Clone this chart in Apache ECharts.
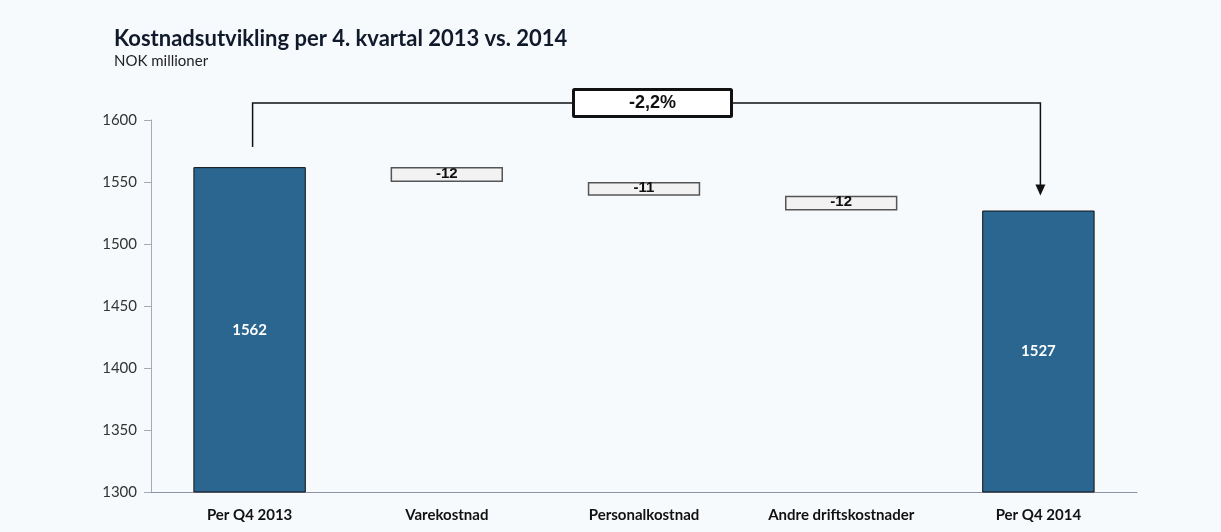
<!DOCTYPE html>
<html>
<head>
<meta charset="utf-8">
<script src="https://cdn.jsdelivr.net/npm/echarts@6/dist/echarts.min.js"></script>
<style>
  html, body { margin: 0; padding: 0; background: #f7fafd; }
  #chart { width: 1221px; height: 532px; }
</style>
</head>
<body>
<div id="chart"></div>
<script>
// Kostnadsutvikling per 4. kvartal, NOK millioner
const categories = ['Per Q4 2013', 'Varekostnad', 'Personalkostnad', 'Andre driftskostnader', 'Per Q4 2014'];
const startTotal = 1562;
const changes = [-12, -11, -12];
const endTotal = 1527;
const yTicks = { min: 1300, max: 1600, interval: 50 };

// Waterfall: totals as full bars, changes as floating boxes on a transparent base
const totals = [startTotal, null, null, null, endTotal];
const base = [null];
const deltas = [null];
let running = startTotal;
changes.forEach(c => {
  running += c;
  base.push(running);
  deltas.push(Math.abs(c));
});
base.push(null);
deltas.push(null);

const pct = (endTotal - startTotal) / startTotal * 100;
const pctText = pct.toFixed(1).replace('.', ',') + '%';

const chart = echarts.init(document.getElementById('chart'));
chart.setOption({
  backgroundColor: '#f7fafd',
  animation: false,
  title: {
    text: 'Kostnadsutvikling per 4. kvartal 2013 vs. 2014',
    subtext: 'NOK millioner',
    left: 109,
    top: 23,
    itemGap: 4,
    textStyle: { fontFamily: 'Lato', fontWeight: 'bold', fontSize: 22, color: '#111a2b' },
    subtextStyle: { fontFamily: 'Lato', fontSize: 15, color: '#222' }
  },
  grid: { left: 151, right: 84, top: 120, bottom: 40, containLabel: false },
  xAxis: {
    type: 'category',
    data: categories,
    axisLine: { lineStyle: { color: '#8e92a6', width: 1 } },
    axisTick: { show: false },
    axisLabel: {
      fontFamily: 'Lato', fontWeight: 'bold', fontSize: 15, color: '#111', margin: 16
    }
  },
  yAxis: {
    type: 'value',
    min: yTicks.min,
    max: yTicks.max,
    interval: yTicks.interval,
    axisLine: { show: true, lineStyle: { color: '#a6a9b8', width: 1 } },
    axisTick: { show: true, length: 7, lineStyle: { color: '#a6a9b8' } },
    splitLine: { show: false },
    axisLabel: {
      fontFamily: 'Lato', fontSize: 15, color: '#333', margin: 14,
      formatter: v => String(v)
    }
  },
  series: [
    {
      name: 'Totals',
      type: 'bar',
      stack: 'w',
      data: totals,
      barWidth: '57%',
      itemStyle: { color: '#2a6690', borderColor: '#111', borderWidth: 1 },
      label: {
        show: true, position: 'inside',
        fontFamily: 'Lato', fontWeight: 'bold', fontSize: 15, color: '#fff'
      }
    },
    {
      name: 'Base',
      type: 'bar',
      stack: 'w',
      data: base,
      barWidth: '57%',
      itemStyle: { color: 'transparent' },
      silent: true
    },
    {
      name: 'Endring',
      type: 'bar',
      stack: 'w',
      data: deltas,
      barWidth: '57%',
      itemStyle: { color: '#f2f2f2', borderColor: '#555', borderWidth: 1.5 },
      label: {
        show: true, position: 'inside',
        formatter: p => '-' + p.value,
        fontFamily: 'Liberation Sans', fontWeight: 'bold', fontSize: 15, color: '#111',
        offset: [0, -1]
      }
    },
    {
      name: 'Bracket',
      type: 'custom',
      coordinateSystem: 'cartesian2d',
      clip: false,
      silent: true,
      data: [[0, startTotal, 4, endTotal]],
      renderItem: function (params, api) {
        const p0 = api.coord([api.value(0), api.value(1)]);
        const p1 = api.coord([api.value(2), api.value(3)]);
        const topY = api.coord([0, yTicks.max])[1] - 17;
        const x0 = p0[0] + 3;
        const x1 = p1[0] + 2;
        const leftEnd = p0[1] - 20;
        const tipY = p1[1] - 15;
        const boxW = 158, boxH = 27;
        const cx = (x0 + x1) / 2 + 6;
        return {
          type: 'group',
          children: [
            {
              type: 'polyline',
              shape: { points: [[x0, leftEnd], [x0, topY], [x1, topY], [x1, tipY - 10]] },
              style: { stroke: '#111', lineWidth: 1.5, fill: null }
            },
            {
              type: 'polygon',
              shape: { points: [[x1 - 5, tipY - 11], [x1 + 5, tipY - 11], [x1, tipY]] },
              style: { fill: '#111' }
            },
            {
              type: 'rect',
              shape: { x: cx - boxW / 2, y: topY - boxH / 2, width: boxW, height: boxH, r: 1 },
              style: { fill: '#ffffff', stroke: '#111', lineWidth: 3 }
            },
            {
              type: 'text',
              x: cx, y: topY,
              style: {
                text: pctText, align: 'center', verticalAlign: 'middle',
                fontFamily: 'Liberation Sans', fontWeight: 'bold', fontSize: 18, fill: '#111'
              }
            }
          ]
        };
      }
    }
  ]
});
</script>
</body>
</html>
